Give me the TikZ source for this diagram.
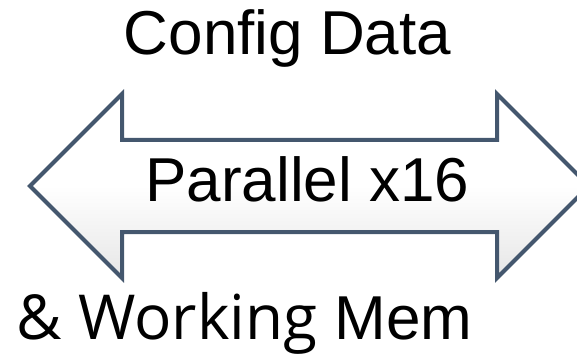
\documentclass[tikz,border=0pt]{standalone}
\usepackage{fontspec}
\setmainfont{Liberation Sans}
\newfontfamily\humanist{Open Sans}
\definecolor{arrowline}{HTML}{44576E}
\definecolor{arrowshade}{HTML}{E6E6E6}
\tikzset{
  label text/.style={inner sep=0pt, anchor=base, text=black, font=\fontsize{62}{70}\selectfont},
  bus arrow/.style={draw=arrowline, line width=4pt, line join=miter, top color=white, bottom color=arrowshade, middle color=white}
}
\begin{document}
\begin{tikzpicture}[x=1pt, y=-1pt]
  \useasboundingbox (0,0) rectangle (577,355);
  % two-headed bus arrow
  \path[bus arrow]
    (30,186) -- (122,94) -- (122,140) -- (497,140) -- (497,94) -- (589,186)
    -- (497,278) -- (497,232) -- (122,232) -- (122,278) -- cycle;
  % labels
  \node[label text] (top) at (287.5,55) {Config Data};
  \node[label text] (mid) at (307.5,201) {Parallel x16};
  \node[label text] (bot) at (244.5,339) {{\humanist \& Working} Mem};
\end{tikzpicture}
\end{document}
